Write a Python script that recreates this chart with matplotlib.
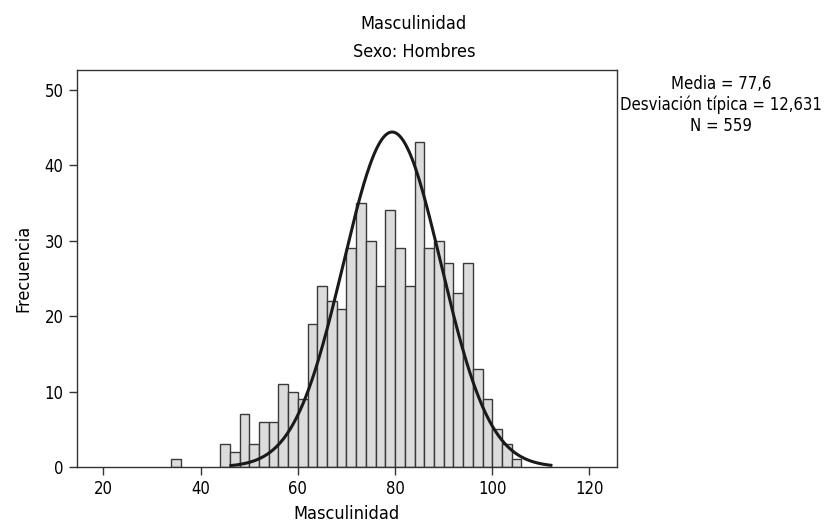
import numpy as np
import matplotlib.pyplot as plt

# histogram bins (centre of each 2-unit bin) and counts
bin_centers = [35, 45, 47, 49, 51, 53, 55, 57, 59, 61, 63, 65, 67, 69, 71, 73,
               75, 77, 79, 81, 83, 85, 87, 89, 91, 93, 95, 97, 99, 101, 103, 105]
counts = [1, 3, 2, 7, 3, 6, 6, 11, 10, 9, 19, 24, 22, 21, 29, 35,
          30, 24, 34, 29, 24, 43, 29, 30, 27, 23, 27, 13, 9, 5, 3, 1]
bin_width = 2

# normal curve as drawn in the chart
curve_mean = 79.4
curve_sd = 10.05
n_total = 559

stats_text = "Media = 77,6\nDesviación típica = 12,631\nN = 559"

plt.rcParams['font.family'] = ['DejaVu Sans']
plt.rcParams['font.stretch'] = 'condensed'

fig = plt.figure(figsize=(8.28, 5.28), dpi=100)
ax = fig.add_axes([76.7/828, 61/528, 540/828, 397/528])

ax.bar(bin_centers, counts, width=bin_width, color='#dcdcdc',
       edgecolor='#3a3a3a', linewidth=1.0)

xs = np.linspace(curve_mean - 3.3*curve_sd, curve_mean + 3.25*curve_sd, 300)
ys = n_total*bin_width/(curve_sd*np.sqrt(2*np.pi))*np.exp(-0.5*((xs - curve_mean)/curve_sd)**2)
ax.plot(xs, ys, color='#1a1a1a', linewidth=2.2)

ax.set_xlim(14.5, 125.6)
ax.set_ylim(0, 52.6)
ax.set_xticks([20, 40, 60, 80, 100, 120])
ax.set_yticks([0, 10, 20, 30, 40, 50])
ax.tick_params(direction='out', length=6, width=1, labelsize=12, color='#333333')
for s in ax.spines.values():
    s.set_linewidth(1.0)
    s.set_color('#333333')

ax.set_xlabel("Masculinidad", fontsize=13, labelpad=5)
ax.set_ylabel("Frecuencia", fontsize=13, labelpad=9)

fig.text(0.5, 1 - 24/528, "Masculinidad", ha='center', va='center', fontsize=13)
fig.text(0.5, 1 - 52/528, "Sexo: Hombres", ha='center', va='center', fontsize=13)

fig.text(721/828, 1 - 105/528, stats_text, ha='center', va='center',
         fontsize=12, linespacing=1.2)

fig.savefig("out.png", dpi=100)
